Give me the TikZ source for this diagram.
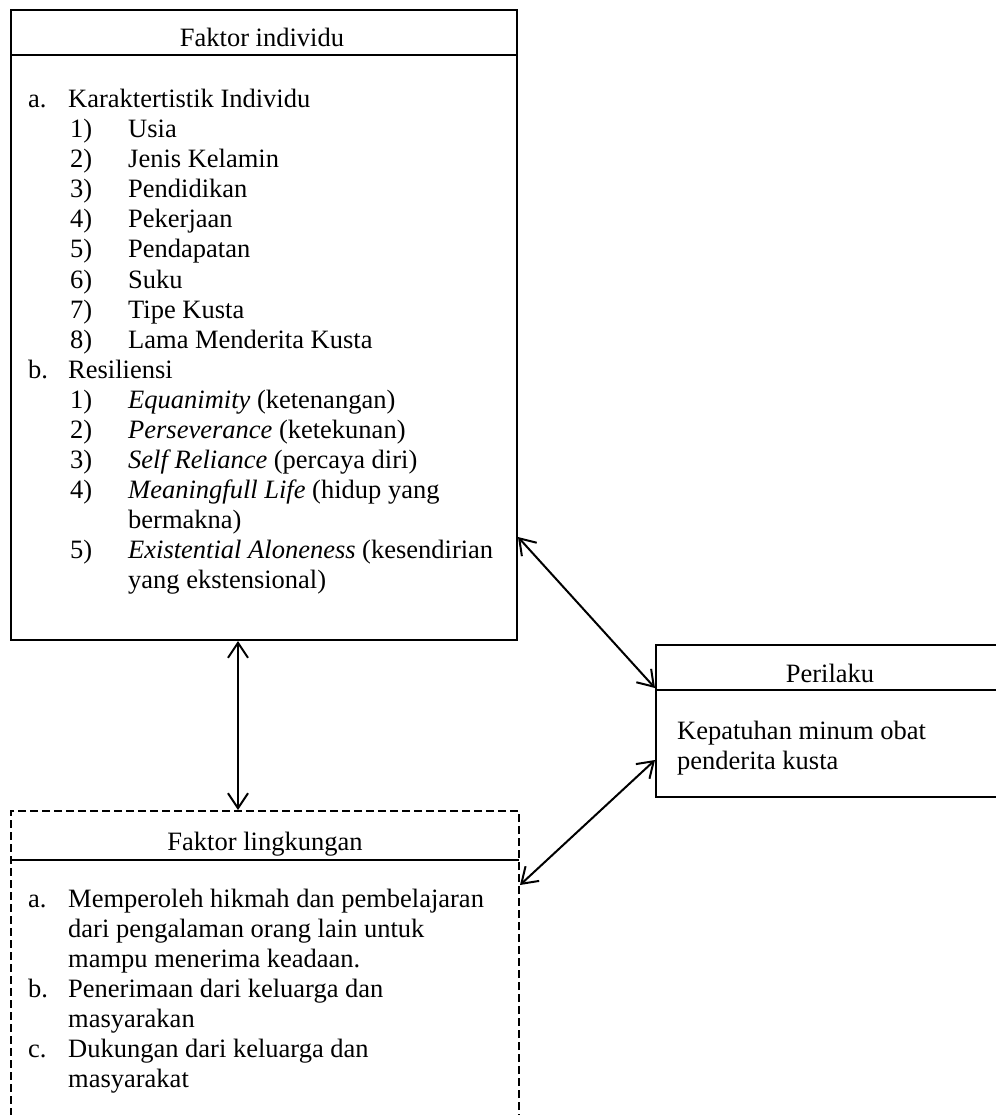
\documentclass[tikz,border=0pt]{standalone}
\usepackage{fontspec}
\setmainfont{Liberation Serif}
\usetikzlibrary{arrows.meta,fit}
\begin{document}
\begin{tikzpicture}[x=1pt,y=-1pt,
  frame/.style={draw, line width=2pt, inner sep=0pt},
  dframe/.style={frame, dash pattern=on 8pt off 4pt},
  rule/.style={line width=2pt},
  txt/.style={anchor=base west, inner sep=0pt, font=\fontsize{26.5}{30}\selectfont},
  ttl/.style={anchor=base, inner sep=0pt, font=\fontsize{26.5}{30}\selectfont},
  link/.style={line width=2pt, {Straight Barb[length=15pt,width=20pt]}-{Straight Barb[length=15pt,width=20pt]}},
]
\useasboundingbox (0,0) rectangle (995,1115);

% boxes
\coordinate (i1) at (11,10); \coordinate (i2) at (517,640);
\node[frame, fit=(i1)(i2)] (indiv) {};
\draw[rule] (11,55) -- (517,55);

\coordinate (p1) at (656,645); \coordinate (p2) at (1006,797);
\node[frame, fit=(p1)(p2)] (peri) {};
\draw[rule] (656,690) -- (1006,690);

\coordinate (l1) at (11,811); \coordinate (l2) at (519,1130);
\node[dframe, fit=(l1)(l2)] (ling) {};
\draw[rule] (11,860) -- (519,860);

% titles
\node[ttl] (t1) at (262,47) {Faktor individu};
\node[ttl] (t2) at (830,682) {Perilaku};
\node[ttl] (t3) at (265,850) {Faktor lingkungan};

% Faktor individu list
\node[txt] (ia) at (28,108) {a.};
\node[txt] (iat) at (68,108) {Karaktertistik Individu};
\node[txt] (n1) at (70,138) {1)}; \node[txt] (m1) at (128,138) {Usia};
\node[txt] (n2) at (70,168) {2)}; \node[txt] (m2) at (128,168) {Jenis Kelamin};
\node[txt] (n3) at (70,198) {3)}; \node[txt] (m3) at (128,198) {Pendidikan};
\node[txt] (n4) at (70,228) {4)}; \node[txt] (m4) at (128,228) {Pekerjaan};
\node[txt] (n5) at (70,258) {5)}; \node[txt] (m5) at (128,258) {Pendapatan};
\node[txt] (n6) at (70,288) {6)}; \node[txt] (m6) at (128,288) {Suku};
\node[txt] (n7) at (70,318) {7)}; \node[txt] (m7) at (128,318) {Tipe Kusta};
\node[txt] (n8) at (70,348) {8)}; \node[txt] (m8) at (128,348) {Lama Menderita Kusta};
\node[txt] (ib) at (28,378) {b.};
\node[txt] (ibt) at (68,378) {Resiliensi};
\node[txt] (r1) at (70,408) {1)}; \node[txt] (s1) at (128,408) {\textit{Equanimity} (ketenangan)};
\node[txt] (r2) at (70,438) {2)}; \node[txt] (s2) at (128,438) {\textit{Perseverance} (ketekunan)};
\node[txt] (r3) at (70,468) {3)}; \node[txt] (s3) at (128,468) {\textit{Self Reliance} (percaya diri)};
\node[txt] (r4) at (70,498) {4)}; \node[txt] (s4) at (128,498) {\textit{Meaningfull Life} (hidup yang};
\node[txt] (s4b) at (128,528) {bermakna)};
\node[txt] (r5) at (70,558) {5)}; \node[txt] (s5) at (128,558) {\textit{Existential Aloneness} (kesendirian};
\node[txt] (s5b) at (128,588) {yang ekstensional)};

% Perilaku body
\node[txt] (pb1) at (677,739) {Kepatuhan minum obat};
\node[txt] (pb2) at (677,769) {penderita kusta};

% Faktor lingkungan list
\node[txt] (la) at (28,907) {a.};
\node[txt] (lat1) at (68,907) {Memperoleh hikmah dan pembelajaran};
\node[txt] (lat2) at (68,937) {dari pengalaman orang lain untuk};
\node[txt] (lat3) at (68,967) {mampu menerima keadaan.};
\node[txt] (lb) at (28,997) {b.};
\node[txt] (lbt1) at (68,997) {Penerimaan dari keluarga dan};
\node[txt] (lbt2) at (68,1027) {masyarakan};
\node[txt] (lc) at (28,1057) {c.};
\node[txt] (lct1) at (68,1057) {Dukungan dari keluarga dan};
\node[txt] (lct2) at (68,1087) {masyarakat};

% connectors
\coordinate (e1a) at (238,641); \coordinate (e1b) at (238,810);
\coordinate (e2a) at (518,537); \coordinate (e2b) at (655,688);
\coordinate (e3a) at (520,885); \coordinate (e3b) at (655,760);
\draw[link] (e1a) -- (e1b);
\draw[link] (e2a) -- (e2b);
\draw[link] (e3a) -- (e3b);
\end{tikzpicture}
\end{document}
